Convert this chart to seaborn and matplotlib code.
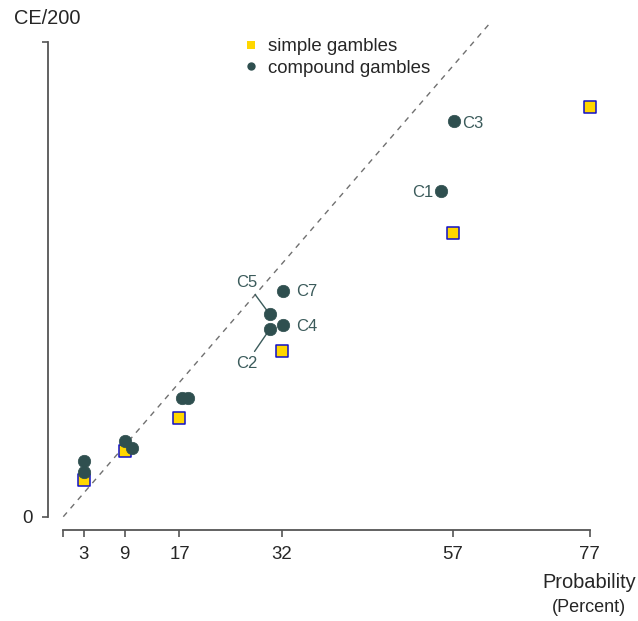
import matplotlib
matplotlib.use("Agg")
import matplotlib.pyplot as plt
from matplotlib.lines import Line2D
import seaborn as sns
import pandas as pd

# simple gambles
simple_prob = [3, 9, 17, 32, 57, 77]
simple_ce = [4.6, 8.3, 12.5, 21.0, 35.9, 51.8]

# compound gambles
comp_prob = [3, 3, 9, 10, 17.3, 18.2, 30.2, 30.2, 32.1, 32.1, 55.3, 57.1]
comp_ce = [5.6, 7.1, 9.6, 8.7, 15.0, 15.0, 23.7, 25.6, 24.3, 28.6, 41.2, 50.0]
comp_label = ["", "", "", "", "", "", "C2", "C5", "C4", "C7", "C1", "C3"]

x_ticks = [0, 3, 9, 17, 32, 57, 77]
x_ticklabels = ["", "3", "9", "17", "32", "57", "77"]

df_s = pd.DataFrame({"prob": simple_prob, "ce": simple_ce})
df_c = pd.DataFrame({"prob": comp_prob, "ce": comp_ce, "label": comp_label})

sns.set_theme(style="white")
plt.rcParams["font.family"] = ["Liberation Sans", "DejaVu Sans"]

W, H = 638, 621
fig = plt.figure(figsize=(W / 100, H / 100), dpi=100)
# axes box in pixels
left, right, top, bottom = 48.3, 620, 15, 530
ax = fig.add_axes([left / W, 1 - bottom / H, (right - left) / W, (bottom - top) / H])

# data -> pixel: px = 63.3 + 6.834*x ; py = 516.7 - 7.906*y
ax.set_xlim((left - 63.3) / 6.834, (right - 63.3) / 6.834)
ax.set_ylim((516.7 - bottom) / 7.906, (516.7 - top) / 7.906)

slate = "#2F4F4F"

# diagonal reference
ax.plot([0, 62.7], [0, 62.7], color="#707070", lw=1.0, ls=(0, (4, 4)), zorder=1)

sns.scatterplot(data=df_s, x="prob", y="ce", marker="s", s=68, color="#FFD700",
                edgecolor="#1010C8", linewidth=1.1, ax=ax, legend=False, zorder=3)
sns.scatterplot(data=df_c, x="prob", y="ce", marker="o", s=80, color=slate,
                edgecolor=slate, linewidth=0.5, ax=ax, legend=False, zorder=4)

# point labels (offsets in points)
offsets = {"C3": (6, -1.5, "left"), "C1": (-5.5, -1.2, "right"),
           "C7": (9.4, -1, "left"), "C4": (9.4, -1.2, "left")}
for _, r in df_c.iterrows():
    if r["label"] in offsets:
        dx, dy, ha = offsets[r["label"]]
        ax.annotate(r["label"], (r["prob"], r["ce"]), xytext=(dx, dy),
                    textcoords="offset points", ha=ha, va="center",
                    fontsize=12, color="#3B5B5B")
leader = {"C5": (-16.8, 22.8), "C2": (-16.8, -24.5)}
for _, r in df_c.iterrows():
    if r["label"] in leader:
        dx, dy = leader[r["label"]]
        ax.annotate(r["label"], (r["prob"], r["ce"]), xytext=(dx, dy),
                    textcoords="offset points", ha="center", va="center",
                    fontsize=12, color="#3B5B5B",
                    arrowprops=dict(arrowstyle="-", color="#3B5B5B", lw=1.0,
                                    shrinkA=1, shrinkB=3.5))

# axes styling, R-like
for s in ["top", "right"]:
    ax.spines[s].set_visible(False)
for s in ["left", "bottom"]:
    ax.spines[s].set_color("#555555")
    ax.spines[s].set_linewidth(1.3)
ax.spines["left"].set_bounds(0, 60)
ax.spines["bottom"].set_bounds(0, 77)
ax.set_xticks(x_ticks)
ax.set_xticklabels(x_ticklabels)
ax.set_yticks([0, 60])
ax.set_yticklabels(["0", ""])
ax.tick_params(axis="x", direction="out", length=5, width=1.2, color="#555555",
               pad=6.5, labelsize=13.4, bottom=True)
ax.tick_params(axis="y", direction="out", length=4, width=1.2, color="#555555",
               pad=7, labelsize=13.4, left=True)
ax.set_xlabel("")
ax.set_ylabel("")

fig.text(14 / W, 1 - 18 / H, "CE/200", fontsize=14.4, ha="left", va="center")
fig.text(636 / W, 1 - 583 / H, "Probability", fontsize=14.4, ha="right", va="center")
fig.text(589 / W, 1 - 608 / H, "(Percent)", fontsize=13, ha="center", va="center")

handles = [
    Line2D([], [], ls="none", marker="s", markersize=6, color="#FFD700", markeredgewidth=0),
    Line2D([], [], ls="none", marker="o", markersize=6, color=slate, markeredgewidth=0),
]
fig.legend(handles, ["simple gambles", "compound gambles"], loc="upper left",
           bbox_to_anchor=(241.7 / W, 1 - 38 / H), frameon=False, fontsize=13.4,
           borderpad=0, borderaxespad=0, handlelength=1.0, handletextpad=0.4,
           labelspacing=0.25)

fig.savefig("out.png", dpi=100)
